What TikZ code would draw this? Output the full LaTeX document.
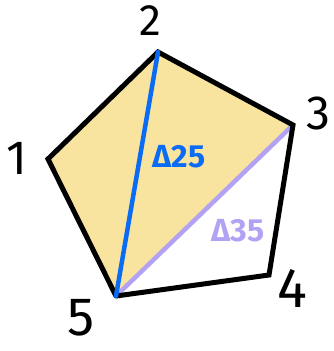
\documentclass[tikz,border=0pt]{standalone}
\usepackage{fontspec}
\setmainfont{Fira Sans}
\usepackage{xcolor}
\usepackage{tikz}
\usetikzlibrary{positioning}

\definecolor{fillyel}{HTML}{F8E49E}
\definecolor{diagblue}{HTML}{0A6CF5}
\definecolor{diagpurple}{HTML}{B3A2F4}

\begin{document}
\begin{tikzpicture}[
  x=1pt,y=-1pt,
  edge/.style={line width=5pt,black,line join=miter,line cap=round},
  diag/.style={line width=4.5pt,line cap=round},
  vlab/.style={font=\fontsize{#1}{#1}\selectfont,inner sep=0pt},
  dlab/.style={font=\fontsize{32}{32}\selectfont\bfseries,inner sep=0pt},
]
\useasboundingbox (0,0) rectangle (334,351);
\coordinate (v1) at (48,159);
\coordinate (v2) at (158,52);
\coordinate (v3) at (293,125);
\coordinate (v4) at (269,275);
\coordinate (v5) at (116,296);
\fill[fillyel] (v1) -- (v2) -- (v3) -- (v5) -- cycle;
\draw[diag,diagpurple] (v3) -- (v5);
\draw[edge] (v5) -- (v1) -- (v2) -- (v3) -- (v4) -- (v5);
\draw[diag,diagblue] (v2) -- (v5);
\node[vlab=48] (l1) at (17,158) {1};
\node[vlab=44] (l2) at (150,21) {2};
\node[vlab=48] (l3) at (318,113) {3};
\node[vlab=56] (l4) at (292,288) {4};
\node[vlab=54] (l5) at (81,318) {5};
\node[dlab,text=diagblue] (d25) at (179,157) {Δ25};
\node[dlab,text=diagpurple] (d35) at (238,231) {Δ35};
\end{tikzpicture}
\end{document}
